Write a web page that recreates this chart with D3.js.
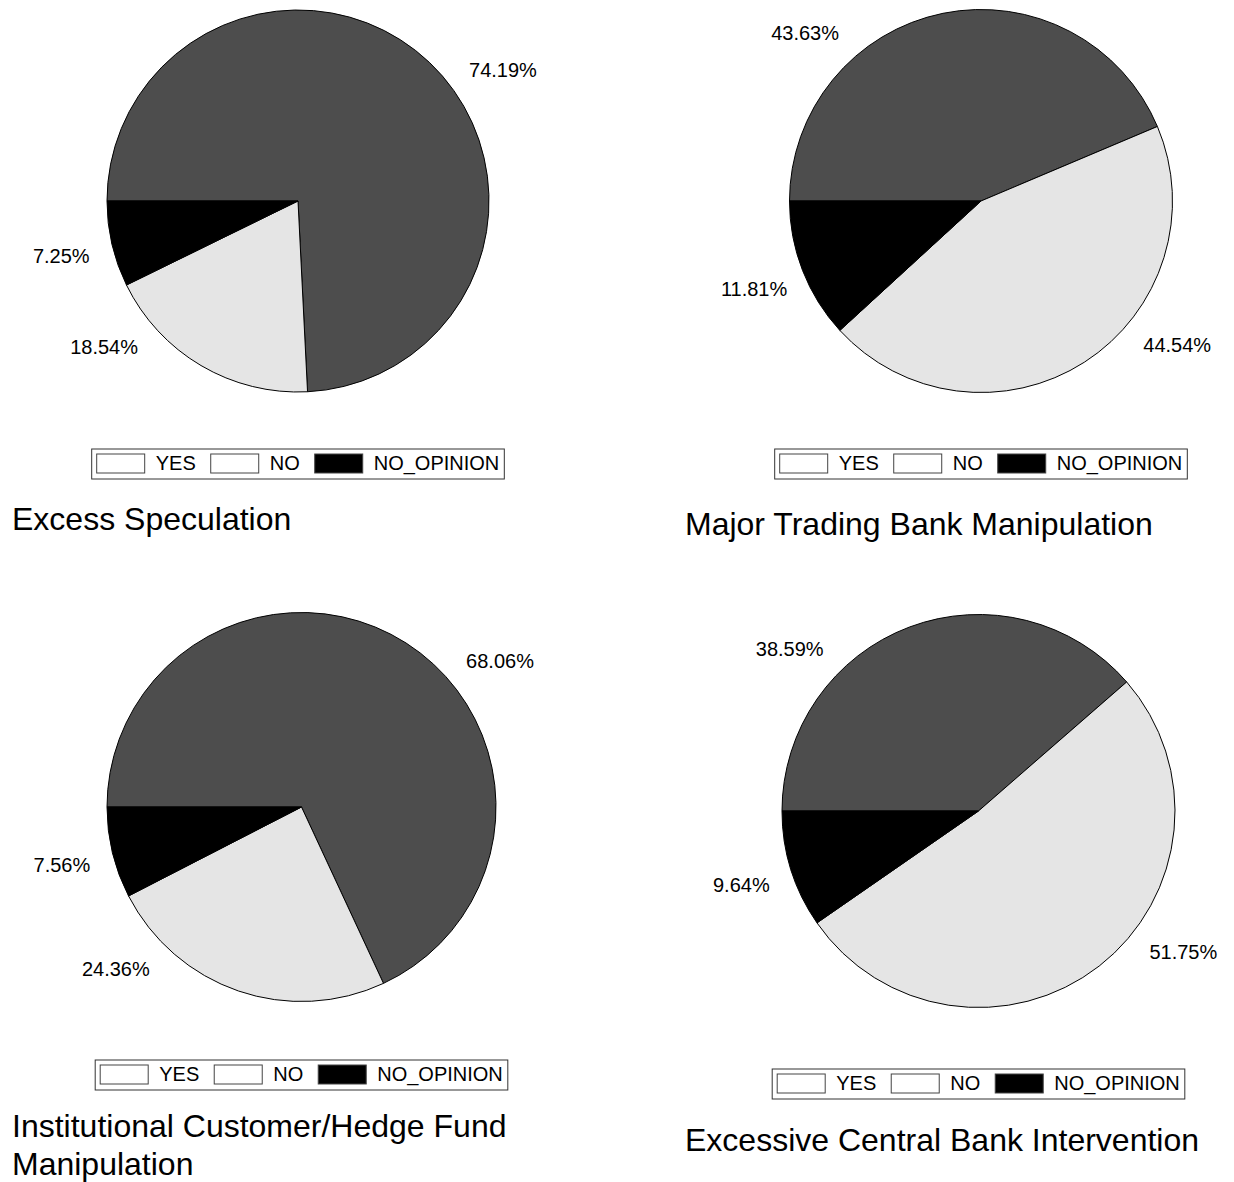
<!DOCTYPE html>
<html>
<head>
<meta charset="utf-8">
<script src="https://cdn.jsdelivr.net/npm/d3@7/dist/d3.min.js"></script>
<style>
  body { margin: 0; background: #fff; }
  svg { display: block; font-family: Arial, "Liberation Sans", sans-serif; }
</style>
</head>
<body>
<svg id="chart" width="1234" height="1182"></svg>
<script>
// survey answers, same order for every pie
var categories = ['YES', 'NO', 'NO_OPINION'];

var titles = [
	'Excess Speculation',
	'Major Trading Bank Manipulation',
	'Institutional Customer/Hedge Fund Manipulation',
	'Excessive Central Bank Intervention'
];

var excessSpeculation = [74.19, 18.54, 7.25];
var majorTradingBank = [43.63, 44.54, 11.81];
var institutionalCustomer = [68.06, 24.36, 7.56];
var centralBankIntervention = [38.59, 51.75, 9.64];

var seriesValues = [excessSpeculation, majorTradingBank, institutionalCustomer, centralBankIntervention];

// slice fills; the legend swatches of the original are left white for YES / NO
var sliceColor = d3.scaleOrdinal().domain(categories).range(['#4d4d4d', '#e5e5e5', '#000000']);
var legendColor = d3.scaleOrdinal().domain(categories).range(['#ffffff', '#ffffff', '#000000']);

// where each panel sits on the page
var panels = [
	{ cx: 298,   cy: 201, r: 191,   legendTop: 449,  titleX: 12,  titleY: 530 },
	{ cx: 981,   cy: 201, r: 191.5, legendTop: 449,  titleX: 685, titleY: 535 },
	{ cx: 301.5, cy: 807, r: 194.5, legendTop: 1060, titleX: 12,  titleY: 1137 },
	{ cx: 978.5, cy: 811, r: 196.5, legendTop: 1069, titleX: 685, titleY: 1151 }
];

var svg = d3.select('#chart');

var pie = d3.pie()
	.sort(null)
	.value(function(d) { return d.value; })
	.startAngle(-Math.PI / 2)
	.endAngle(Math.PI * 1.5);

// label angle: keep near-horizontal slices as they are, squeeze the rest towards the side
function labelAngle(d) {
	var a = (d.startAngle + d.endAngle) / 2;
	a = ((a % (2 * Math.PI)) + 2 * Math.PI) % (2 * Math.PI);
	var h = a < Math.PI ? Math.PI / 2 : Math.PI * 1.5;
	var dev = a - h, ad = Math.abs(dev), knee = 25 * Math.PI / 180;
	if (ad > knee) ad = knee + (ad - knee) * 0.35;
	return h + (dev < 0 ? -ad : ad);
}

seriesValues.forEach(function(values, i) {
	var p = panels[i];
	var data = categories.map(function(c, k) { return { key: c, value: values[k] }; });
	var arcs = pie(data);

	var g = svg.append('g').attr('transform', 'translate(' + p.cx + ',' + p.cy + ')');

	var arc = d3.arc().innerRadius(0).outerRadius(p.r);

	g.selectAll('path.slice')
		.data(arcs)
		.enter().append('path')
		.attr('class', 'slice')
		.attr('d', arc)
		.attr('fill', function(d) { return sliceColor(d.data.key); })
		.attr('stroke', '#000')
		.attr('stroke-width', 1);

	var labelR = p.r + 52;
	g.selectAll('text.pct')
		.data(arcs)
		.enter().append('text')
		.attr('class', 'pct')
		.attr('text-anchor', 'middle')
		.attr('dominant-baseline', 'central')
		.style('font-size', '20px')
		.attr('transform', function(d) {
			var a = labelAngle(d);
			return 'translate(' + (Math.sin(a) * labelR) + ',' + (-Math.cos(a) * labelR) + ')';
		})
		.text(function(d) { return d.data.value.toFixed(2) + '%'; });

	// legend
	var lg = svg.append('g');
	var items = lg.selectAll('g.item')
		.data(categories)
		.enter().append('g')
		.attr('class', 'item');

	items.append('rect')
		.attr('width', 48)
		.attr('height', 19)
		.attr('fill', function(d) { return legendColor(d); })
		.attr('stroke', '#444')
		.attr('stroke-width', 1);

	items.append('text')
		.attr('x', 59)
		.attr('y', 16)
		.style('font-size', '20px')
		.text(function(d) { return d; });

	var widths = [];
	items.each(function() {
		widths.push(59 + d3.select(this).select('text').node().getComputedTextLength());
	});
	var total = 5 + d3.sum(widths) + 15 * (widths.length - 1) + 5;
	var x0 = p.cx - total / 2;

	var curX = 5;
	items.attr('transform', function(d, k) {
		var t = 'translate(' + curX + ',5)';
		curX += widths[k] + 15;
		return t;
	});

	lg.insert('rect', ':first-child')
		.attr('width', total)
		.attr('height', 30)
		.attr('fill', '#fff')
		.attr('stroke', '#333')
		.attr('stroke-width', 1);

	lg.attr('transform', 'translate(' + x0 + ',' + p.legendTop + ')');

	// title, wrapped when too long for the column
	var title = svg.append('text')
		.attr('x', p.titleX)
		.attr('y', p.titleY)
		.style('font-size', '32px');

	var words = titles[i].split(' '), line = [], lineNo = 0;
	var tspan = title.append('tspan').attr('x', p.titleX).attr('y', p.titleY);
	words.forEach(function(w) {
		line.push(w);
		tspan.text(line.join(' '));
		if (tspan.node().getComputedTextLength() > 540 && line.length > 1) {
			line.pop();
			tspan.text(line.join(' '));
			line = [w];
			lineNo++;
			tspan = title.append('tspan').attr('x', p.titleX).attr('y', p.titleY + lineNo * 38).text(w);
		}
	});
});
</script>
</body>
</html>
